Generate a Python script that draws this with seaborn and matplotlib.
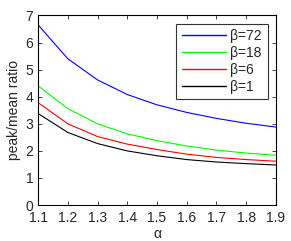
import numpy as np
import pandas as pd
import seaborn as sns
import matplotlib.pyplot as plt
from matplotlib.lines import Line2D

# Values
alpha = [1.1, 1.2, 1.3, 1.4, 1.5, 1.6, 1.7, 1.8, 1.9]
beta72 = [6.65, 5.40, 4.62, 4.08, 3.70, 3.42, 3.20, 3.02, 2.88]
beta18 = [4.40, 3.56, 3.00, 2.63, 2.38, 2.18, 2.03, 1.92, 1.84]
beta6 = [3.78, 3.00, 2.53, 2.25, 2.05, 1.88, 1.76, 1.68, 1.62]
beta1 = [3.38, 2.68, 2.27, 2.00, 1.82, 1.68, 1.59, 1.53, 1.48]
labels = ['β=72', 'β=18', 'β=6', 'β=1']
colors = ['blue', 'lime', 'red', 'black']

# Long-form table for seaborn
df = pd.DataFrame({
    'alpha': alpha * 4,
    'ratio': beta72 + beta18 + beta6 + beta1,
    'beta': np.repeat(labels, len(alpha)),
})

sns.set_style('ticks')
plt.rcParams['font.family'] = ['Liberation Sans', 'DejaVu Sans']
plt.rcParams['font.size'] = 10

fig = plt.figure(figsize=(2.91, 2.41), dpi=100)
ax = fig.add_axes([0.131, 0.149, 0.817, 0.787])

sns.lineplot(data=df, x='alpha', y='ratio', hue='beta', hue_order=labels,
             palette=dict(zip(labels, colors)), linewidth=0.8, ax=ax,
             legend=False)

ax.set_xlim(1.1, 1.9)
ax.set_ylim(0, 7)
ax.set_xticks(alpha)
ax.set_yticks(range(8))
ax.set_xlabel('α', fontsize=10, labelpad=1)
ax.set_ylabel('peak/mean ratio', fontsize=10, labelpad=3)
ax.tick_params(direction='in', top=True, right=True, length=3, width=0.6,
               labelsize=10)
ax.tick_params(axis='x', pad=4.5)
ax.tick_params(axis='y', pad=3.5)
for s in ax.spines.values():
    s.set_linewidth(0.8)
    s.set_color('black')

# Legend with one proxy line per beta, in the reference order
handles = [Line2D([0], [0], color=c, linewidth=1.0) for c in colors]
leg = ax.legend(handles=handles, labels=labels, loc='upper right', fontsize=10,
                frameon=True, fancybox=False, edgecolor='black',
                handlelength=3.2, handletextpad=0.3, borderpad=0.4,
                labelspacing=0.2, borderaxespad=0.6)
leg.get_frame().set_linewidth(0.8)

fig.savefig('out.png', dpi=100)
